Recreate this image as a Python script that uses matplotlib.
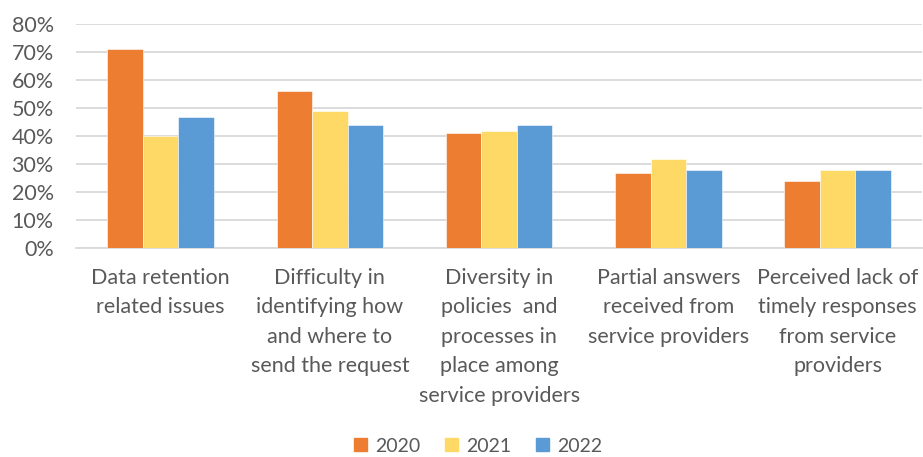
import numpy as np
import matplotlib.pyplot as plt
from matplotlib.patches import Rectangle
from matplotlib.ticker import PercentFormatter

# Share of respondents reporting each issue, per survey year
categories = [
    "Data retention\nrelated issues",
    "Difficulty in\nidentifying how\nand where to\nsend the request",
    "Diversity in\npolicies  and\nprocesses in\nplace among\nservice providers",
    "Partial answers\nreceived from\nservice providers",
    "Perceived lack of\ntimely responses\nfrom service\nproviders",
]
years = ["2020", "2021", "2022"]
values_2020 = [71, 56, 41, 27, 24]
values_2021 = [40, 49, 42, 32, 28]
values_2022 = [47, 44, 44, 28, 28]

colors = ["#ED7D31", "#FFD966", "#5B9BD5"]
text_color = "#595959"
grid_color = "#D9D9D9"

plt.rcParams["font.family"] = ["Lato", "DejaVu Sans"]

fig = plt.figure(figsize=(9.23, 4.57), dpi=100)
ax = fig.add_axes([0.0823, 0.457, 0.917, 0.49])

x = np.arange(len(categories))
width = 0.21
series = [values_2020, values_2021, values_2022]
for i, (vals, col) in enumerate(zip(series, colors)):
    ax.bar(x + (i - 1) * width, vals, width, color=col, zorder=3,
           edgecolor="white", linewidth=0.4)

ax.set_xlim(-0.5, len(categories) - 0.5)
ax.set_ylim(0, 80)
ax.set_yticks(range(0, 81, 10))
ax.yaxis.set_major_formatter(PercentFormatter(decimals=0))
ax.grid(axis="y", color=grid_color, linewidth=1.3, zorder=0)
for side in ["left", "right", "top"]:
    ax.spines[side].set_visible(False)
ax.spines["bottom"].set_color(grid_color)
ax.spines["bottom"].set_linewidth(1.3)

ax.set_xticks(x)
ax.set_xticklabels(categories, linespacing=1.6)
ax.tick_params(axis="x", length=0, pad=14, labelsize=15.5, labelcolor=text_color)
ax.tick_params(axis="y", length=0, pad=16, labelsize=15.5, labelcolor=text_color)
for lbl in ax.get_yticklabels():
    lbl.set_horizontalalignment("right")

handles = [Rectangle((0, 0), 1, 1, color=c) for c in colors]
fig.legend(handles, years, loc="center", bbox_to_anchor=(0.518, 0.024),
           ncol=3, frameon=False, fontsize=14, handlelength=0.65,
           handleheight=0.65, handletextpad=0.4, columnspacing=1.3,
           labelcolor=text_color)

fig.savefig("out.png", dpi=100)
